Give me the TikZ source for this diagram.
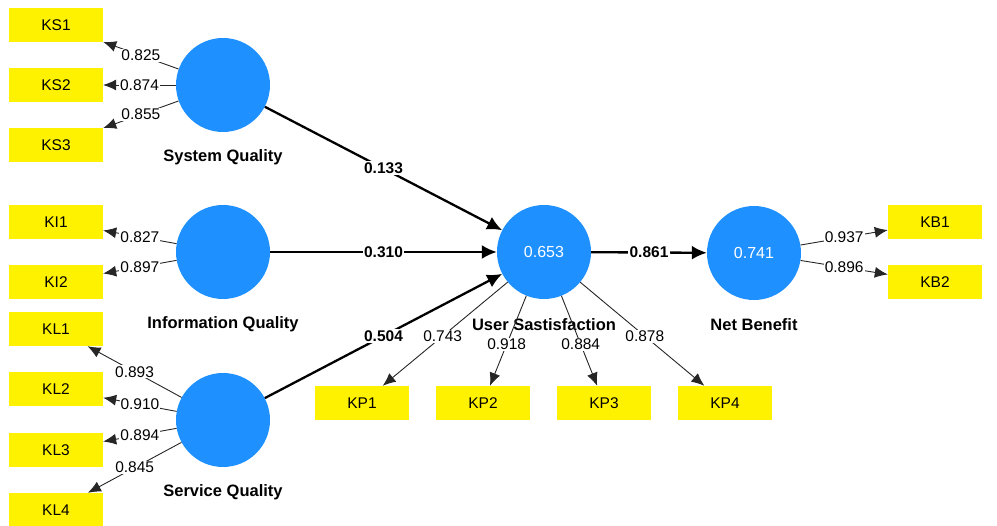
\documentclass[tikz,border=0pt]{standalone}
\usepackage{fontspec}
\setmainfont{Liberation Sans}
\usetikzlibrary{arrows.meta, positioning, calc}
\definecolor{lvblue}{RGB}{30,144,255}

\begin{document}
\begin{tikzpicture}[x=1pt, y=-1pt,
  latent/.style={circle, fill=lvblue, minimum size=94pt, inner sep=0pt, text=white,
    font=\fontsize{16}{18}\selectfont},
  indicator/.style={rectangle, fill=yellow, minimum width=94pt, minimum height=34pt, inner sep=0pt},
  conlabel/.style={fill=white, inner sep=1pt, font=\fontsize{16.5}{19}\selectfont\bfseries},
  loading/.style={-{Latex[length=13pt, width=11pt]}, draw=black!85, line width=0.9pt},
  structural/.style={-{Latex[length=15pt, width=14pt]}, line width=2.3pt},
  lval/.style={fill=white, inner sep=1pt, font=\fontsize{15.5}{17}\selectfont},
  pval/.style={fill=white, inner sep=1.5pt, font=\fontsize{15.5}{17}\selectfont\bfseries},
  every node/.style={font=\fontsize{15.5}{17}\selectfont}
]
  \useasboundingbox (0,0) rectangle (997,526);

  % latent variables
  \node[latent] (sq) at (223,85) {};
  \node[latent] (iq) at (223,252) {};
  \node[latent] (svq) at (223,420) {};
  \node[latent] (us) at (544,252) {0.653};
  \node[latent] (nb) at (754,253) {0.741};

  % indicators
  \node[indicator] (ks1) at (56,25) {KS1};
  \node[indicator] (ks2) at (56,85) {KS2};
  \node[indicator] (ks3) at (56,145) {KS3};
  \node[indicator] (ki1) at (56,222) {KI1};
  \node[indicator] (ki2) at (56,282) {KI2};
  \node[indicator] (kl1) at (56,329) {KL1};
  \node[indicator] (kl2) at (56,389) {KL2};
  \node[indicator] (kl3) at (56,450) {KL3};
  \node[indicator] (kl4) at (56,510) {KL4};
  \node[indicator] (kp1) at (362,403) {KP1};
  \node[indicator] (kp2) at (483,403) {KP2};
  \node[indicator] (kp3) at (604,403) {KP3};
  \node[indicator] (kp4) at (725,403) {KP4};
  \node[indicator] (kb1) at (935,222) {KB1};
  \node[indicator] (kb2) at (935,282) {KB2};

  % outer loadings
  \draw[loading] (sq) -- node[lval] {0.825} (ks1);
  \draw[loading] (sq) -- node[lval] {0.874} (ks2);
  \draw[loading] (sq) -- node[lval] {0.855} (ks3);
  \draw[loading] (iq) -- node[lval] {0.827} (ki1);
  \draw[loading] (iq) -- node[lval] {0.897} (ki2);
  \draw[loading] (svq) -- node[lval] {0.893} (kl1);
  \draw[loading] (svq) -- node[lval] {0.910} (kl2);
  \draw[loading] (svq) -- node[lval] {0.894} (kl3);
  \draw[loading] (svq) -- node[lval] {0.845} (kl4);
  \draw[loading] (nb) -- node[lval] {0.937} (kb1);
  \draw[loading] (nb) -- node[lval] {0.896} (kb2);

  % construct names
  \node[conlabel] (sqlab) at ($(sq)+(0,72)$) {System Quality};
  \node[conlabel] (iqlab) at ($(iq)+(0,72)$) {Information Quality};
  \node[conlabel] (svqlab) at ($(svq)+(0,72)$) {Service Quality};
  \node[conlabel] (uslab) at ($(us)+(0,73)$) {User Sastisfaction};
  \node[conlabel] (nblab) at ($(nb)+(0,72)$) {Net Benefit};

  \draw[loading] (us) -- node[lval, pos=0.52] {0.743} (kp1);
  \draw[loading] (us) -- node[lval, pos=0.54] {0.918} (kp2);
  \draw[loading] (us) -- node[lval, pos=0.54] {0.884} (kp3);
  \draw[loading] (us) -- node[lval, pos=0.52] {0.878} (kp4);

  % path coefficients
  \draw[structural] (sq) -- node[pval] {0.133} (us);
  \draw[structural] (iq) -- node[pval] {0.310} (us);
  \draw[structural] (svq) -- node[pval] {0.504} (us);
  \draw[structural] (us) -- node[pval] {0.861} (nb);
\end{tikzpicture}
\end{document}
